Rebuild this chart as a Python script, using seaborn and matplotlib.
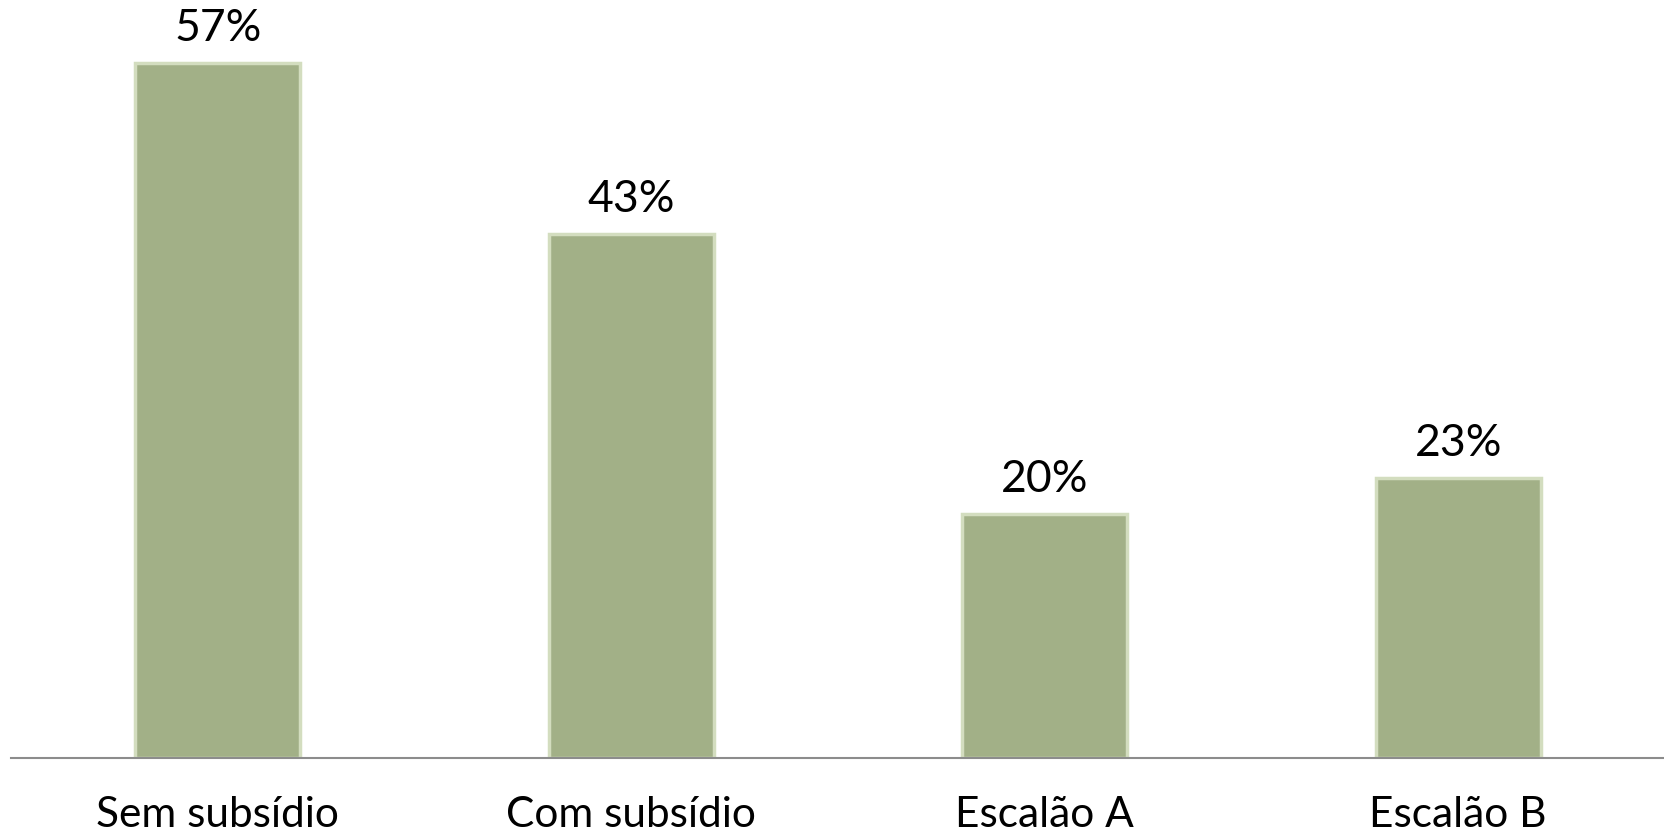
import matplotlib
matplotlib.use("Agg")
import matplotlib.pyplot as plt
import seaborn as sns
import pandas as pd

categories = ["Sem subsídio", "Com subsídio", "Escalão A", "Escalão B"]
values = [57, 43, 20, 23]
value_labels = ["57%", "43%", "20%", "23%"]

df = pd.DataFrame({"categoria": categories, "valor": values})

sns.set_style("white")
plt.rcParams['font.family'] = ['Lato', 'DejaVu Sans']

fig = plt.figure(figsize=(16.65, 8.36), dpi=100)
ax = fig.add_axes([0.0066, 0.0933, 0.9934, 0.9067])

sns.barplot(data=df, x="categoria", y="valor", ax=ax, color="#a2b087",
            saturation=1, width=0.4, edgecolor="#d3ddbf", linewidth=2.5)

ax.bar_label(ax.containers[0], labels=value_labels, padding=10, fontsize=32, color="black")

ax.set_ylim(0, 62.2)
ax.set_xlim(-0.5, 3.5)
ax.set_xlabel("")
ax.set_ylabel("")
ax.set_yticks([])
ax.tick_params(axis="x", labelsize=30.5, length=0, pad=27, colors="black")
for s in ["top", "right", "left"]:
    ax.spines[s].set_visible(False)
ax.spines["bottom"].set_color("#8c8c8c")
ax.spines["bottom"].set_linewidth(1.5)

fig.savefig("out.png", dpi=100)
